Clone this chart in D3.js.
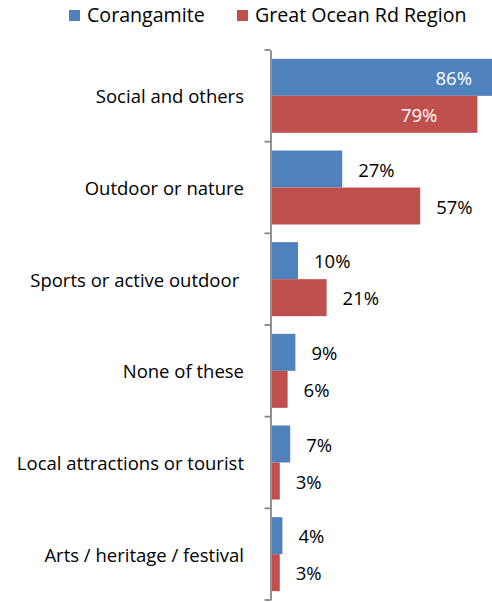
<!DOCTYPE html>
<html>
<head>
<meta charset="utf-8">
<script src="https://cdn.jsdelivr.net/npm/d3@7"></script>
<style>
  html, body { margin: 0; padding: 0; background: #fff; }
  svg { display: block; }
  text { font-family: "Open Sans", sans-serif; fill: #000; }
</style>
</head>
<body>
<div id="chart"></div>
<script>
// Activity types, top to bottom
const categories = [
  "Social and others",
  "Outdoor or nature",
  "Sports or active outdoor ",
  "None of these",
  "Local attractions or tourist",
  "Arts / heritage / festival"
];
const seriesNames = ["Corangamite", "Great Ocean Rd Region"];
const corangamite = [86, 27, 10, 9, 7, 4];
const greatOceanRd = [79, 57, 21, 6, 3, 3];

const seriesColors = ["#4F81BD", "#C0504D"];
const W = 492, H = 602;
const margin = { top: 50, bottom: 2, left: 271 };
const fontSize = 18.5;
const legendFontSize = 19.6;

const svg = d3.select("#chart").append("svg")
  .attr("width", W).attr("height", H);

// Plot area is wider than the window; long bars run off the right edge
const x = d3.scaleLinear().domain([0, 100]).range([margin.left + 1, margin.left + 261]);
const yOuter = d3.scaleBand().domain(categories).range([margin.top, H - margin.bottom]);
const barH = 37;

const rows = categories.map((c, i) => ({
  cat: c,
  values: [
    { s: seriesNames[0], v: corangamite[i], k: 0 },
    { s: seriesNames[1], v: greatOceanRd[i], k: 1 }
  ]
}));

const g = svg.append("g");
const groups = g.selectAll("g.cat").data(rows).join("g")
  .attr("class", "cat")
  .attr("transform", d => `translate(0,${yOuter(d.cat) + (yOuter.bandwidth() - 2 * barH) / 2})`);

groups.selectAll("rect").data(d => d.values).join("rect")
  .attr("x", x(0))
  .attr("y", d => d.k * barH)
  .attr("width", d => x(d.v) - x(0))
  .attr("height", barH)
  .attr("fill", d => seriesColors[d.k]);

// Value labels: inside the two long bars, outside end elsewhere
const insideOffset = [20, 40];
groups.selectAll("text.val").data(d => d.values).join("text")
  .attr("class", "val")
  .attr("font-size", fontSize)
  .attr("dominant-baseline", "central")
  .attr("y", d => d.k * barH + barH / 2)
  .each(function (d) {
    const t = d3.select(this);
    if (d.v > 70) {
      t.attr("x", Math.min(x(d.v), W) - insideOffset[d.k])
        .attr("text-anchor", "end")
        .style("fill", "#fff");
    } else {
      t.attr("x", x(d.v) + 16).attr("text-anchor", "start");
    }
  })
  .text(d => d.v + "%");

// Category axis
const axis = d3.axisLeft(yOuter).tickSize(0).tickFormat("");
const axG = svg.append("g").attr("transform", `translate(${margin.left - 0.5},0)`).call(axis);
axG.select(".domain").attr("stroke", "#868686").attr("stroke-width", 1.8);
const bounds = categories.map(c => yOuter(c)).concat([H - margin.bottom]);
axG.selectAll("line.bound").data(bounds).join("line")
  .attr("class", "bound")
  .attr("x1", -6).attr("x2", 0)
  .attr("y1", d => d).attr("y2", d => d)
  .attr("stroke", "#868686").attr("stroke-width", 1.8);

svg.append("g").selectAll("text").data(categories).join("text")
  .attr("x", 244)
  .attr("y", d => yOuter(d) + yOuter.bandwidth() / 2)
  .attr("text-anchor", "end")
  .attr("dominant-baseline", "central")
  .attr("font-size", fontSize)
  .style("white-space", "pre")
  .text(d => d);

// Legend
const legendX = [69, 237];
const leg = svg.append("g").selectAll("g").data(seriesNames).join("g")
  .attr("transform", (d, i) => `translate(${legendX[i]},10)`);
leg.append("rect").attr("width", 11).attr("height", 11).attr("fill", (d, i) => seriesColors[i]);
leg.append("text").attr("x", 18).attr("y", 4.5)
  .attr("dominant-baseline", "central")
  .attr("font-size", legendFontSize)
  .text(d => d);
</script>
</body>
</html>
